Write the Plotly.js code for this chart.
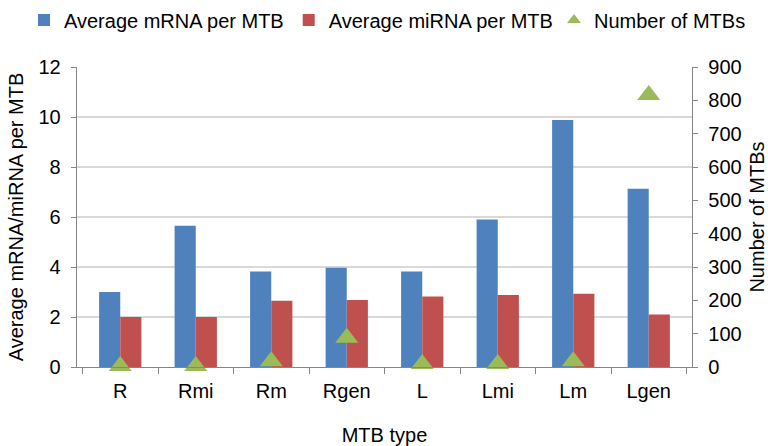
<!DOCTYPE html>
<html><head><meta charset="utf-8">
<script src="https://cdn.plot.ly/plotly-3.0.1.min.js"></script>
<style>body{margin:0}#c{width:768px;height:446px}</style>
</head><body><div id="c"></div>
<script>
const categories = ["R","Rmi","Rm","Rgen","L","Lmi","Lm","Lgen"];
const avgMRNA = [3.0, 5.65, 3.82, 3.97, 3.82, 5.9, 9.88, 7.13];
const avgMiRNA = [2.0, 2.0, 2.65, 2.68, 2.82, 2.88, 2.93, 2.1];
const numMTBs = [3, 3, 17, 88, 9, 9, 17, 816];

const FONT = "'Liberation Sans', Arial, sans-serif";
const data = [
  {type:"bar", name:"Average mRNA per MTB", x:categories, y:avgMRNA, marker:{color:"#4F81BD"}, legend:"legend"},
  {type:"bar", name:"Average miRNA per MTB", x:categories, y:avgMiRNA, marker:{color:"#C0504D"}, legend:"legend"},
  {type:"scatter", mode:"markers", name:"Number of MTBs", x:categories, y:numMTBs, yaxis:"y2",
   marker:{symbol:"triangle-up", size:20, color:"#9BBB59"}, cliponaxis:false, legend:"legend2"}
];
const layout = {
  width:768, height:446,
  margin:{l:77, r:76, t:67, b:79, autoexpand:false},
  font: {family: FONT, size: 20, color: "#000"},
  paper_bgcolor:"#fff", plot_bgcolor:"#fff",
  barmode:"group", bargap:0.44, bargroupgap:0,
  showlegend:true,
  legend:{orientation:"h", x:(24-77)/615, xanchor:"left", y:1.157, yanchor:"middle",
          font:{family: FONT, size:20}, traceorder:"normal", bgcolor:"rgba(0,0,0,0)"},
  legend2:{orientation:"h", x:(554-77)/615, xanchor:"left", y:1.157, yanchor:"middle",
          font:{family: FONT, size:20}, itemsizing:"constant", bgcolor:"rgba(0,0,0,0)"},
  xaxis:{
    title:{text:"MTB type", font:{size:20}, standoff:27},
    showline:true, linecolor:"#868686", linewidth:1.3,
    ticks:"outside", tickson:"boundaries", ticklen:6, tickcolor:"#868686",
    ticklabelstandoff:6,
    showgrid:false, zeroline:false
  },
  yaxis:{
    title:{text:"Average mRNA/miRNA per MTB", font:{size:20}, standoff:9},
    range:[0,12], dtick:2, showline:true, linecolor:"#868686", linewidth:1.3,
    ticks:"outside", ticklen:5, tickcolor:"#868686", ticklabelstandoff:6,
    showgrid:true, gridcolor:"#d9d9d9", gridwidth:1.3, zeroline:false
  },
  yaxis2:{
    title:{text:"Number of MTBs", font:{size:20}, standoff:9},
    overlaying:"y", side:"right",
    range:[0,900], dtick:100, showline:true, linecolor:"#868686", linewidth:1.3,
    ticks:"outside", ticklen:5, tickcolor:"#868686", ticklabelstandoff:6,
    showgrid:false, zeroline:false
  }
};
Plotly.newPlot("c", data, layout, {displayModeBar:false, staticPlot:true});
</script></body></html>
